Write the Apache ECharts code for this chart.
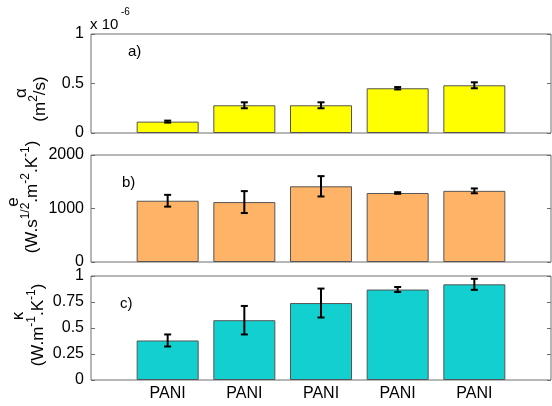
<!DOCTYPE html>
<html><head><meta charset="utf-8">
<script src="https://cdn.jsdelivr.net/npm/echarts@6/dist/echarts.min.js"></script>
<style>html,body{margin:0;padding:0;background:#fff}#c{width:552px;height:406px}</style>
</head><body><div id="c"></div>
<script>
const positions = [1, 2, 3, 4, 5];
const xLabels = ['PANI', 'PANI', 'PANI', 'PANI', 'PANI'];
const alphaVals = [0.115, 0.28, 0.28, 0.452, 0.482];
const alphaErr = [0.01, 0.03, 0.03, 0.012, 0.03];
const effVals = [1145, 1120, 1415, 1290, 1330];
const effErr = [110, 205, 190, 15, 45];
const kVals = [0.38, 0.575, 0.74, 0.87, 0.92];
const kErr = [0.058, 0.137, 0.139, 0.024, 0.053];
const alphaTicks = { min: 0, max: 1, interval: 0.5 };
const effTicks = { min: 0, max: 2000, interval: 1000 };
const kTicks = { min: 0, max: 1, interval: 0.25 };

const FONT = 'Liberation Sans, Arial, sans-serif';
const FS = 16;
const chart = echarts.init(document.getElementById('c'), null, { renderer: 'canvas' });

const grids = [
  { left: 91, right: 1, top: 34, height: 99 },
  { left: 91, right: 1, top: 155, height: 107 },
  { left: 91, right: 1, top: 276, height: 104 }
].map(g => Object.assign(g, { show: true, borderColor: '#6e6e6e', borderWidth: 1, backgroundColor: '#fff' }));

function xAx(i, showLabels) {
  return {
    type: 'value', gridIndex: i, min: 0, max: 6, interval: 1,
    axisLine: { show: false }, axisTick: { show: false }, splitLine: { show: false },
    axisLabel: {
      show: showLabels, color: '#000', fontSize: FS, fontFamily: FONT, margin: 6,
      showMinLabel: false, showMaxLabel: false,
      formatter: v => (v >= 1 && v <= 5) ? xLabels[Math.round(v) - 1] : ''
    }
  };
}
function yAx(i, t, right) {
  return {
    type: 'value', gridIndex: i, min: t.min, max: t.max, interval: t.interval,
    position: right ? 'right' : 'left',
    axisLine: { show: false }, splitLine: { show: false },
    axisTick: { show: true, inside: true, length: 4, lineStyle: { color: '#6e6e6e' } },
    axisLabel: { show: !right, color: '#000', fontSize: FS, fontFamily: FONT, margin: 7,
      formatter: v => String(v) }
  };
}
function barSeries(vals, i, color) {
  return {
    type: 'bar', xAxisIndex: i, yAxisIndex: i, barWidth: 62,
    data: positions.map((p, k) => [p, vals[k]]),
    itemStyle: { color: color, borderColor: '#555', borderWidth: 1 },
    silent: true, z: 2
  };
}
function errSeries(vals, errs, i) {
  return {
    type: 'custom', xAxisIndex: i, yAxisIndex: i, z: 10, clip: false,
    data: positions.map((p, k) => [p, vals[k] - errs[k], vals[k] + errs[k]]),
    encode: { x: 0, y: [1, 2] },
    renderItem: (params, api) => {
      const x = api.value(0);
      const lo = api.coord([x, api.value(1)]);
      const hi = api.coord([x, api.value(2)]);
      const hw = 3.5;
      const st = { stroke: '#000', lineWidth: 2 };
      return {
        type: 'group', children: [
          { type: 'line', shape: { x1: lo[0], y1: lo[1], x2: hi[0], y2: hi[1] }, style: st },
          { type: 'line', shape: { x1: lo[0] - hw, y1: lo[1], x2: lo[0] + hw, y2: lo[1] }, style: st },
          { type: 'line', shape: { x1: hi[0] - hw, y1: hi[1], x2: hi[0] + hw, y2: hi[1] }, style: st }
        ]
      };
    }
  };
}

const rich = {
  a: { fontSize: 17, fontFamily: FONT, color: '#000', lineHeight: 21, verticalAlign: 'bottom' },
  s: { fontSize: 12, fontFamily: FONT, color: '#000', lineHeight: 21, verticalAlign: 'top' }
};
function vtext(x, y, text) {
  return {
    type: 'text', x: x, y: y, rotation: Math.PI / 2,
    style: { text: text, rich: rich, align: 'center', verticalAlign: 'middle', fontFamily: FONT, fontSize: 17, fill: '#000' }
  };
}
function ptext(x, y, text, size) {
  return { type: 'text', x: x, y: y, style: { text: text, fontSize: size || 15, fontFamily: FONT, fill: '#000', align: 'left', verticalAlign: 'middle' } };
}

chart.setOption({
  animation: false,
  grid: grids,
  xAxis: [xAx(0, false), xAx(1, false), xAx(2, true)],
  yAxis: [yAx(0, alphaTicks, false), yAx(1, effTicks, false), yAx(2, kTicks, false),
          yAx(0, alphaTicks, true), yAx(1, effTicks, true), yAx(2, kTicks, true)],
  series: [
    barSeries(alphaVals, 0, '#ffff00'), errSeries(alphaVals, alphaErr, 0),
    barSeries(effVals, 1, '#ffb366'), errSeries(effVals, effErr, 1),
    barSeries(kVals, 2, '#12d0d0'), errSeries(kVals, kErr, 2)
  ],
  graphic: [
    ptext(90, 25, 'x 10'),
    ptext(121, 12, '-6', 10),
    ptext(128, 52, 'a)'),
    ptext(122, 183, 'b)'),
    ptext(120, 304, 'c)'),
    vtext(19, 93, '{a|α}'),
    vtext(38, 99, '{a|(m}{s|2}{a|/s)}'),
    vtext(11, 202, '{a|e}'),
    vtext(30, 197, '{a|(W.s}{s|1/2}{a|.m}{s|-2}{a|.K}{s|-1}{a|)}'),
    vtext(16, 316, '{a|κ}'),
    vtext(36, 325, '{a|(W.m}{s|-1}{a|.K}{s|-1}{a|)}')
  ]
});
</script>
</body></html>
